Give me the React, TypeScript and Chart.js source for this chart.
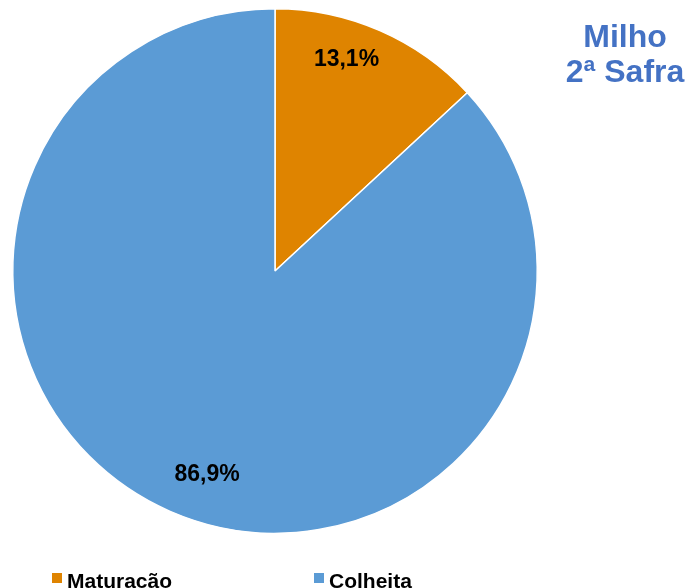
import React, { useEffect, useRef } from "react";
import { Chart, registerables } from "chart.js";

Chart.register(...registerables);

const categories = ["Maturação", "Colheita"];
const values = [13.1, 86.9];
const colors = ["#DF8400", "#5B9BD5"];
const titleLines = ["Milho", "2ª Safra"];
// label placement per slice: angle offset from slice mid (radians), radius fraction
const labelAngleOffset = [-0.085, -0.09];
const labelRadiusFrac = [0.85, 0.82];

const FONT = '"Liberation Sans", Arial, sans-serif';

const fmt = (v: number) => v.toFixed(1).replace(".", ",") + "%";

const overlayPlugin = {
  id: "overlay",
  afterDraw(chart: any) {
    const ctx = chart.ctx as CanvasRenderingContext2D;
    const meta = chart.getDatasetMeta(0);
    ctx.save();
    // slice labels
    ctx.font = `bold 23px ${FONT}`;
    ctx.fillStyle = "#000000";
    ctx.textAlign = "center";
    ctx.textBaseline = "middle";
    meta.data.forEach((arc: any, i: number) => {
      const p = arc.getProps(["x", "y", "startAngle", "endAngle", "outerRadius"], true);
      const mid = (p.startAngle + p.endAngle) / 2 + labelAngleOffset[i];
      const r = p.outerRadius * labelRadiusFrac[i];
      ctx.fillText(fmt(values[i]), p.x + Math.cos(mid) * r, p.y + Math.sin(mid) * r);
    });
    // title
    ctx.font = `bold 32px ${FONT}`;
    ctx.fillStyle = "#4472C4";
    ctx.textAlign = "center";
    ctx.textBaseline = "alphabetic";
    ctx.fillText(titleLines[0], 625, 47);
    ctx.fillText(titleLines[1], 625, 82);
    // legend
    const legendX = [52, 314];
    ctx.font = `bold 21px ${FONT}`;
    ctx.textAlign = "left";
    categories.forEach((c, i) => {
      ctx.fillStyle = colors[i];
      ctx.fillRect(legendX[i], 573, 10, 10);
      ctx.fillStyle = "#000000";
      ctx.fillText(c, legendX[i] + 15, 588);
    });
    ctx.restore();
  },
};

export default function App() {
  const ref = useRef<HTMLCanvasElement>(null);
  useEffect(() => {
    document.body.style.margin = "0";
    const chart = new Chart(ref.current!, {
      type: "pie",
      data: {
        labels: categories,
        datasets: [
          {
            data: values,
            backgroundColor: colors,
            borderColor: "#FFFFFF",
            borderWidth: 1.5,
          },
        ],
      },
      options: {
        responsive: false,
        animation: false,
        layout: { padding: { left: 12, right: 148, top: 8, bottom: 54 } },
        plugins: {
          legend: { display: false },
          tooltip: { enabled: false },
          title: { display: false },
        },
      },
      plugins: [overlayPlugin],
    });
    return () => chart.destroy();
  }, []);
  return (
    <div style={{ width: 686, height: 588, background: "#fff" }}>
      <canvas ref={ref} width={686} height={588} style={{ width: 686, height: 588, display: "block" }} />
    </div>
  );
}
